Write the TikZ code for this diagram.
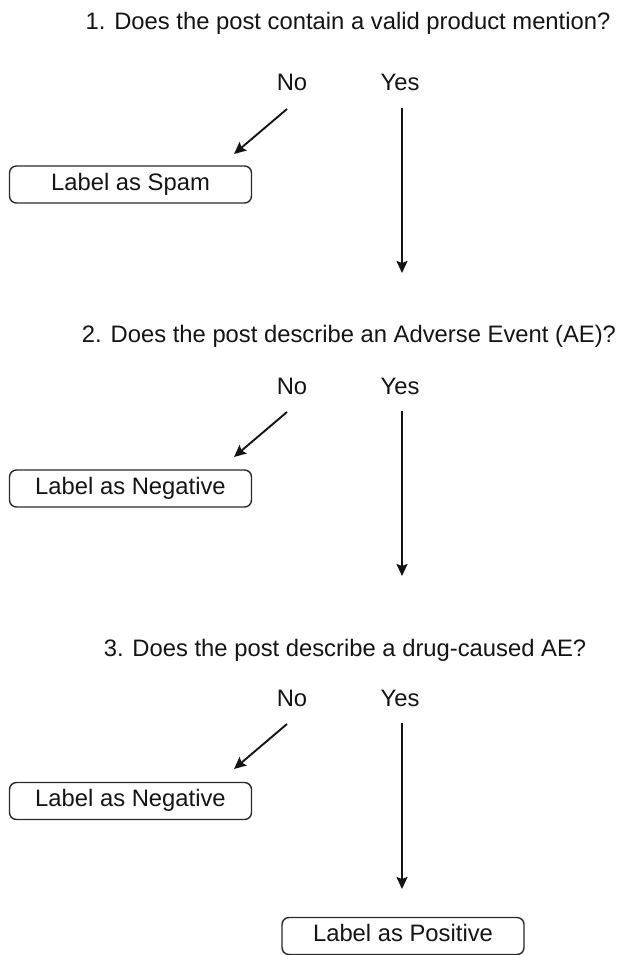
\documentclass[tikz,border=0pt]{standalone}
\usepackage{fontspec}
\setmainfont{Liberation Sans}
\usetikzlibrary{arrows.meta}
\definecolor{ink}{HTML}{141414}
\definecolor{boxline}{HTML}{2A2A2A}
\tikzset{
  qtext/.style={anchor=base, inner sep=0pt, text=ink, font=\fontsize{23.8}{28}\selectfont},
  choice/.style={anchor=base, inner sep=0pt, text=ink, font=\fontsize{23.8}{28}\selectfont},
  labelbox/.style={draw=boxline, line width=1.4pt, rounded corners=7pt, minimum width=242pt, minimum height=37pt,
    inner sep=0pt, text height=17pt, text depth=6pt, text=ink, font=\fontsize{23.8}{28}\selectfont},
  flow/.style={draw=ink, line width=1.9pt, -{Stealth[length=12pt,width=11pt,inset=2pt]}}
}
\begin{document}
\begin{tikzpicture}[x=1pt,y=-1pt]
\useasboundingbox (0,0) rectangle (622,955);
% Question 1
\node[qtext] (q1) at (348,30) {1. Does the post contain a valid product mention?};
\node[choice] (no1) at (292,91) {No};
\node[choice] (yes1) at (400,91) {Yes};
\coordinate (no1s) at (287,109);
\coordinate (no1e) at (234,154);
\coordinate (yes1s) at (402,108);
\coordinate (yes1e) at (402,273);
\node[labelbox] (spam) at (130.5,184.5) {Label as Spam};
\draw[flow] (no1s) -- (no1e);
\draw[flow] (yes1s) -- (yes1e);
% Question 2
\node[qtext] (q2) at (349,342) {2. Does the post describe an Adverse Event (AE)?};
\node[choice] (no2) at (292,394) {No};
\node[choice] (yes2) at (400,394) {Yes};
\coordinate (no2s) at (287,412);
\coordinate (no2e) at (234,457);
\coordinate (yes2s) at (402,411);
\coordinate (yes2e) at (402,576);
\node[labelbox] (neg1) at (130.5,488.5) {Label as Negative};
\draw[flow] (no2s) -- (no2e);
\draw[flow] (yes2s) -- (yes2e);
% Question 3
\node[qtext] (q3) at (345,656) {3. Does the post describe a drug-caused AE?};
\node[choice] (no3) at (292,706) {No};
\node[choice] (yes3) at (400,706) {Yes};
\coordinate (no3s) at (287,724);
\coordinate (no3e) at (234,769);
\coordinate (yes3s) at (402,723);
\coordinate (yes3e) at (402,889);
\node[labelbox] (neg2) at (130.5,801) {Label as Negative};
\node[labelbox] (pos) at (403,936) {Label as Positive};
\draw[flow] (no3s) -- (no3e);
\draw[flow] (yes3s) -- (yes3e);
\end{tikzpicture}
\end{document}
